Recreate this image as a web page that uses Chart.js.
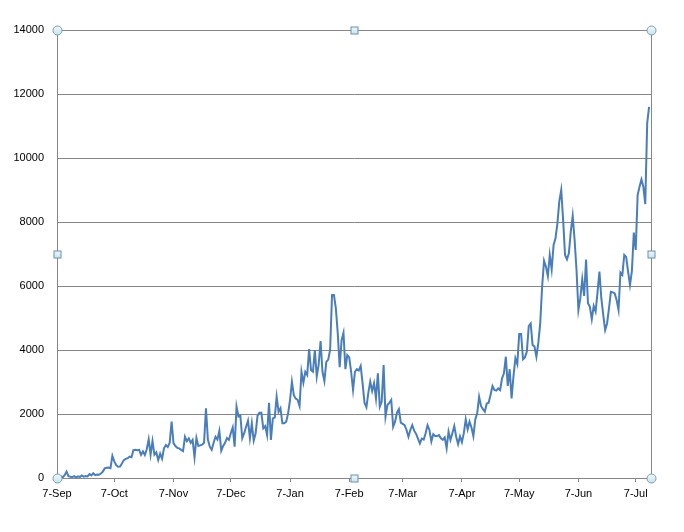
<!DOCTYPE html>
<html>
<head>
<meta charset="utf-8">
<script src="https://cdn.jsdelivr.net/npm/chart.js@4"></script>
<style>
  body { margin: 0; background: #fff; }
</style>
</head>
<body>
<canvas id="grafico" width="684" height="532"></canvas>
<script>
// day offsets from 7-Sep where the axis is labelled
const tickDays = [0, 30, 61, 91, 122, 153, 181, 212, 242, 273, 303];
const tickLabels = ['7-Sep', '7-Oct', '7-Nov', '7-Dec', '7-Jan', '7-Feb', '7-Mar', '7-Apr', '7-May', '7-Jun', '7-Jul'];
const yTicks = [0, 2000, 4000, 6000, 8000, 10000, 12000, 14000];

// one value per day starting 7-Sep
const dailyValues = [
    0, 30, 60, 20, 90, 200, 60, 40, 30, 60,
    20, 50, 30, 80, 40, 60, 50, 120, 80, 150,
    90, 110, 100, 140, 200, 300, 320, 330, 310, 690,
    520, 400, 350, 360, 450, 560, 600, 620, 670, 650,
    870, 880, 870, 880, 720, 830, 720, 900, 1210, 730,
    1150, 730, 800, 560, 760, 600, 930, 1030, 970, 1100,
    1760, 1090, 1000, 940, 925, 880, 840, 1290, 1150, 1240,
    1100, 1190, 645, 1250, 1000, 1020, 1040, 1100, 2180, 1200,
    980, 880, 1100, 1290, 1200, 1470, 850, 1000, 1100, 1250,
    1190, 1400, 1580, 980, 2230, 1920, 1950, 1240, 1400, 1600,
    1790, 1240, 1710, 1170, 1400, 1950, 2040, 2040, 1550, 1620,
    1340, 2350, 1190, 1860, 1890, 2540, 2070, 2180, 1710, 1710,
    1760, 2020, 2430, 3010, 2590, 2480, 2440, 2250, 3320, 2980,
    3320, 3220, 4030, 3375, 3320, 4000, 3170, 3540, 4280, 3320,
    3030, 3630, 3700, 4000, 5720, 5720, 5300, 4520, 3460, 4310,
    4540, 3400, 3840, 3770, 3320, 2750, 3320, 3400, 3360, 3500,
    2960, 2350, 2210, 2660, 3010, 2720, 2960, 2490, 3270, 2230,
    2390, 3530, 1920, 2280, 2350, 2440, 1600, 1760, 2040, 2150,
    1730, 1690, 1650, 1500, 1290, 1500, 1650, 1480, 1380, 1230,
    1080, 1230, 1200, 1400, 1650, 1500, 1140, 1370, 1310, 1310,
    1340, 1240, 1190, 1270, 930, 1450, 1190, 1400, 1625, 1290,
    1060, 1300, 1120, 1400, 1830, 1520, 1760, 1580, 1310, 1830,
    2020, 2540, 2250, 2150, 2070, 2330, 2350, 2600, 2875, 2750,
    2730, 2800, 2750, 3110, 3270, 3790, 2875, 3400, 2490, 3180,
    3740, 3560, 4500, 4500, 3710, 3770, 3950, 4750, 4830, 4160,
    4110, 3790, 4220, 4830, 5980, 6790, 6600, 6310, 6970, 6520,
    7280, 7490, 7960, 8650, 9000, 8060, 6970, 6830, 7020, 7700,
    8190, 7440, 6500, 5250, 5620, 6210, 5690, 6830, 5460, 5350,
    4960, 5375, 5200, 5800, 6450, 5610, 5100, 4625, 4830, 5300,
    5820, 5800, 5770, 5560, 5250, 6420, 6350, 6970, 6910, 6450,
    6030, 6470, 7670, 7125, 8840, 9100, 9330, 9100, 8560, 11080,
    11600
];

const ejeGris = '#868686';

// selection frame and handles round the plot area
const marcoSeleccion = {
    id: 'marcoSeleccion',
    afterDraw(chart) {
        const ctx = chart.ctx;
        const a = chart.chartArea;
        ctx.save();
        ctx.strokeStyle = ejeGris;
        ctx.lineWidth = 1;
        ctx.strokeRect(a.left + 0.5, a.top + 0.5, a.right - a.left, a.bottom - a.top);

        const midX = Math.round((a.left + a.right) / 2) + 0.5;
        const midY = Math.round((a.top + a.bottom) / 2) + 0.5;
        const esquinas = [[a.left + 0.5, a.top + 0.5], [a.right + 0.5, a.top + 0.5],
                          [a.left + 0.5, a.bottom + 0.5], [a.right + 0.5, a.bottom + 0.5]];
        const lados = [[midX, a.top + 0.5], [midX, a.bottom + 0.5],
                       [a.left + 0.5, midY], [a.right + 0.5, midY]];

        esquinas.forEach(([x, y]) => {
            const g = ctx.createLinearGradient(x, y - 5, x, y + 5);
            g.addColorStop(0, '#f4fafc');
            g.addColorStop(1, '#c3e2ec');
            ctx.beginPath();
            ctx.arc(x, y, 4.5, 0, Math.PI * 2);
            ctx.fillStyle = g;
            ctx.fill();
            ctx.strokeStyle = '#7e9aa8';
            ctx.stroke();
        });
        lados.forEach(([x, y]) => {
            const g = ctx.createLinearGradient(x, y - 4, x, y + 4);
            g.addColorStop(0, '#eef8fb');
            g.addColorStop(1, '#c6e4ee');
            ctx.fillStyle = g;
            ctx.fillRect(x - 3.5, y - 3.5, 7, 7);
            ctx.strokeStyle = '#6e90a8';
            ctx.strokeRect(x - 3.5, y - 3.5, 7, 7);
        });
        ctx.restore();
    }
};

document.addEventListener('DOMContentLoaded', function() {
    const ctx = document.getElementById('grafico').getContext('2d');

    new Chart(ctx, {
        type: 'line',
        data: {
            datasets: [{
                data: dailyValues.map((v, i) => ({ x: i, y: v })),
                borderColor: '#4a7ebb',
                borderWidth: 2,
                pointRadius: 0,
                tension: 0,
                fill: false
            }]
        },
        options: {
            responsive: false,
            animation: false,
            devicePixelRatio: 1,
            layout: { padding: { left: 0, right: 33, top: 30, bottom: 24 } },
            plugins: {
                legend: { display: false },
                tooltip: { enabled: false }
            },
            scales: {
                x: {
                    type: 'linear',
                    min: 0,
                    max: 311,
                    afterBuildTicks: axis => { axis.ticks = tickDays.map(v => ({ value: v })); },
                    afterFit: axis => { axis.height = 30; },
                    grid: { drawOnChartArea: false, drawTicks: true, tickLength: 4, color: ejeGris },
                    border: { display: true, color: ejeGris },
                    ticks: {
                        autoSkip: false,
                        maxRotation: 0,
                        padding: 5,
                        color: '#000',
                        font: { family: 'Liberation Sans', size: 11 },
                        callback: (value, index) => tickLabels[index]
                    }
                },
                y: {
                    min: 0,
                    max: 14000,
                    afterBuildTicks: axis => { axis.ticks = yTicks.map(v => ({ value: v })); },
                    afterFit: axis => { axis.width = 57; },
                    grid: { color: ejeGris, drawTicks: false },
                    border: { display: true, color: ejeGris },
                    ticks: {
                        padding: 13,
                        color: '#000',
                        font: { family: 'Liberation Sans', size: 11 },
                        callback: value => String(value)
                    }
                }
            }
        },
        plugins: [marcoSeleccion]
    });
});
</script>
</body>
</html>
